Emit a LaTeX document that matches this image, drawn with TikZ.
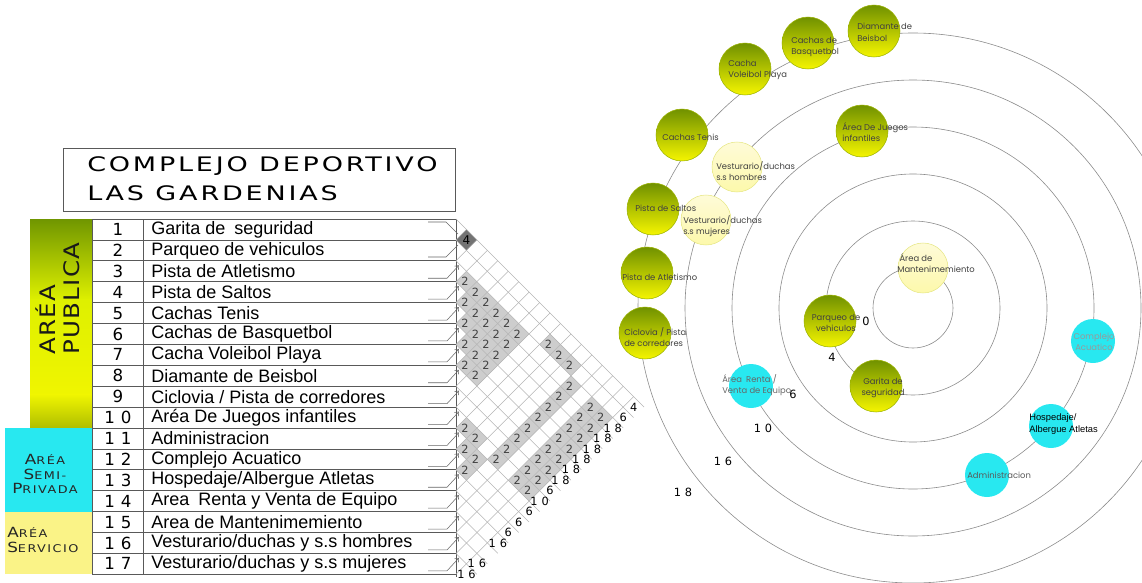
\documentclass[tikz,border=0pt]{standalone}
\usepackage{fontspec}
\setmainfont{Liberation Sans}
\newfontfamily\titlefont[FakeStretch=1.35, LetterSpace=14]{DejaVu Sans}
\newfontfamily\numfont[LetterSpace=35]{DejaVu Sans}
\newfontfamily\blockfont[FakeStretch=1.15, LetterSpace=6]{DejaVu Sans}
\newfontfamily\scfont[FakeStretch=1.2, LetterSpace=14]{DejaVu Sans}
\newfontfamily\bubfont{Poppins}
\usetikzlibrary{arrows.meta}
\definecolor{olivetop}{RGB}{112,150,0}
\definecolor{limemid}{RGB}{222,240,0}
\definecolor{yelbright}{RGB}{240,245,0}
\definecolor{olivebot}{RGB}{175,190,0}
\definecolor{semicyan}{RGB}{40,232,240}
\definecolor{servyel}{RGB}{250,243,135}
\definecolor{bubtop}{RGB}{112,145,0}
\definecolor{bubbot}{RGB}{245,245,0}
\definecolor{palebub}{RGB}{253,248,190}
\definecolor{cellgray}{RGB}{205,205,205}
\definecolor{gridgray}{RGB}{180,180,180}
\definecolor{ringgray}{RGB}{140,140,140}
\newcommand{\scword}[2]{{\fontsize{10.5}{10}\selectfont #1}{\fontsize{8}{10}\selectfont #2}}
\begin{document}
\begin{tikzpicture}[x=0.75pt, y=-0.75pt,
  tabline/.style={draw=black!65, line width=0.5pt},
  gridline/.style={draw=gridgray, line width=0.4pt},
  leader/.style={draw=black!60, line width=0.4pt},
  rowtext/.style={anchor=west, inner sep=0pt, font=\fontsize{13.5}{14}\selectfont},
  rownum/.style={inner sep=0pt, font=\numfont\fontsize{12.5}{13}\selectfont},
  cellnum/.style={inner sep=0pt, font=\numfont\fontsize{8.5}{8}\selectfont, text=black!75},
  sumnum/.style={inner sep=0pt, font=\numfont\fontsize{8.5}{8}\selectfont},
  ringnum/.style={inner sep=0pt, font=\numfont\fontsize{8.5}{8}\selectfont},
  greenbub/.style={circle, minimum size=39pt, inner sep=0pt, top color=bubtop, bottom color=bubbot, draw=bubtop!70!yellow, line width=0.4pt},
  palebubble/.style={circle, minimum size=37.5pt, inner sep=0pt, top color=palebub!60!white, bottom color=palebub!90!yellow, draw=palebub!70!olivebot, line width=0.4pt},
  cyanbub/.style={circle, minimum size=33pt, inner sep=0pt, fill=semicyan},
  bubtext/.style={inner sep=0pt, align=left, anchor=west, font=\bubfont\fontsize{6.3}{8.5}\selectfont, text=black!75},
  ring/.style={draw=ringgray, line width=0.45pt}]
\useasboundingbox (0,0) rectangle (1142,582);
\clip (0,0) rectangle (1142,582);

% title
\draw[tabline] (63,148) rectangle (455,211);
\node[anchor=west, inner sep=0pt, font=\titlefont\fontsize{15}{15}\selectfont] (title1) at (87,166) {COMPLEJO DEPORTIVO};
\node[anchor=west, inner sep=0pt, font=\titlefont\fontsize{15}{15}\selectfont] (title2) at (87,193) {LAS GARDENIAS};

% zone blocks
\shade[top color=olivetop, bottom color=limemid] (30,219) rectangle (92,300);
\shade[top color=limemid, bottom color=yelbright] (30,299.5) rectangle (92,395);
\shade[top color=yelbright, bottom color=olivebot] (30,394.5) rectangle (92,428);
\fill[semicyan] (5,428) rectangle (92,511.6);
\fill[servyel] (5,511.6) rectangle (92,574);
\node[rotate=90, anchor=west, inner sep=0pt, font=\blockfont\fontsize{16}{16}\selectfont, text=black!90] (area1) at (46,355) {ARÉA};
\node[rotate=90, anchor=west, inner sep=0pt, font=\blockfont\fontsize{16}{16}\selectfont, text=black!90] (publica) at (72,355) {PUBLICA};
\node[align=center, inner sep=0pt, font=\scfont, text=black!85] (semi) at (45,474) {\scword{A}{RÉA}\\[-1pt]\scword{S}{EMI-}\\[-1pt]\scword{P}{RIVADA}};
\node[align=left, anchor=west, inner sep=0pt, font=\scfont, text=black!85] (serv) at (7,540) {\scword{A}{RÉA}\\[-1pt]\scword{S}{ERVICIO}};

% table
\foreach \k in {0,...,17}
  \draw[tabline] (92,219+\k*20.9) -- (456,219+\k*20.9);
\draw[tabline] (92,219) -- (92,574);
\draw[tabline] (143,219) -- (143,574);
\draw[tabline] (456,219) -- (456,577);
\foreach \t [count=\r] in {Garita de\enspace seguridad, Parqueo de vehiculos, Pista de Atletismo,
    Pista de Saltos, Cachas Tenis, Cachas de Basquetbol, Cacha Voleibol Playa,
    Diamante de Beisbol, Ciclovia / Pista de corredores, Aréa De Juegos infantiles,
    Administracion, Complejo Acuatico, Hospedaje/Albergue Atletas,
    Area\enspace Renta y Venta de Equipo, Area de Mantenimemiento,
    Vesturario/duchas y s.s hombres, Vesturario/duchas y s.s mujeres}{
  \pgfmathsetmacro\yc{219+(\r-0.5)*20.9}
  \node[rownum] (n\r) at (118,\yc) {\r};
  \node[rowtext] (t\r) at (151,\yc) {\t};
}

% leaders
\draw[leader] (428,222) -- (446,222) -- (458,234);
\draw[leader] (428,257) -- (446,257) -- (458,245);
\foreach \r in {3,...,17}{
  \pgfmathsetmacro\yc{219+(\r-0.5)*20.9}
  \draw[leader, -{Straight Barb[length=2.5pt,width=4pt]}] (428,\yc+7) -- (447,\yc+7) -- (459,\yc-6);
}

% relation matrix
\def\Xm{456}
\def\Ym{219}
\def\hh{10.45}
\foreach \i/\j in {3/4,3/5,3/6,3/7,3/8,3/9,4/5,4/6,4/7,4/8,4/9,5/6,5/7,5/8,5/9,6/7,6/8,6/9,7/8,7/9,
    2/11,2/12,2/13,3/14,4/14,5/14,6/14,7/14,8/14,9/14,10/14,
    3/16,4/16,5/16,6/16,7/16,8/16,9/16,10/16,3/17,4/17,5/17,6/17,7/17,8/17,9/17,10/17,
    10/11,10/12,11/12,11/13,12/13}{
  \pgfmathsetmacro\cx{\Xm+(\j-\i)*\hh}
  \pgfmathsetmacro\cy{\Ym+(\i+\j-1)*\hh}
  \fill[cellgray] (\cx-\hh,\cy) -- (\cx,\cy-\hh) -- (\cx+\hh,\cy) -- (\cx,\cy+\hh) -- cycle;
  \node[cellnum] (c\i-\j) at (\cx-1.5,\cy) {2};
}
\fill[black!55] (\Xm,\Ym+2*\hh) -- (\Xm+\hh,\Ym+\hh) -- (\Xm+2*\hh,\Ym+2*\hh) -- (\Xm+\hh,\Ym+3*\hh) -- cycle;
\node[cellnum, text=black, font=\numfont\fontsize{9}{9}\selectfont] (c1-2) at (\Xm+\hh,\Ym+2*\hh) {4};
\foreach \k in {0,...,16}
  \draw[gridline] (\Xm,\Ym+\k*2*\hh) -- ++({(18-\k)*\hh},{(18-\k)*\hh});
\foreach \k in {1,...,17}
  \draw[gridline] (\Xm,\Ym+\k*2*\hh) -- ++({\k*\hh},{-\k*\hh});
\foreach \i/\v in {1/4,2/6,3/18,4/18,5/18,6/18,7/18,8/18,9/6,10/10,11/6,12/6,13/6,14/16,16/16,17/16}
  \node[sumnum] (s\i) at ({\Xm+(18-\i)*\hh},{\Ym+(\i+17)*\hh}) {\v};

% rings
\coordinate (ctr) at (913,308);
\foreach \rr in {40,87,134,181,228,275}
  \draw[ring] (ctr) circle[radius=\rr];
\node[ringnum] (r0) at (866,321) {0};
\node[ringnum] (r4) at (832,357) {4};
\node[ringnum] (r6) at (793,394) {6};
\node[ringnum] (r10) at (763,428) {10};
\node[ringnum] (r16) at (723,461) {16};
\node[ringnum] (r18) at (683,492) {18};

% bubbles
\node[greenbub] (beis) at (874,31) {};
\node[greenbub] (basq) at (808,43) {};
\node[greenbub] (vole) at (745,69) {};
\node[greenbub] (teni) at (682,135) {};
\node[greenbub] (salt) at (653,209) {};
\node[greenbub] (atle) at (647,273) {};
\node[greenbub] (cicl) at (645,333) {};
\node[greenbub] (jueg) at (862,131) {};
\node[greenbub] (parq) at (830,321) {};
\node[greenbub] (gari) at (876,386) {};
\node[palebubble] (mant) at (923,268) {};
\node[palebubble] (vhom) at (737,167) {};
\node[palebubble] (vmuj) at (706,220) {};
\node[cyanbub] (rent) at (751,386) {};
\node[cyanbub] (acua) at (1093,341) {};
\node[cyanbub] (hosp) at (1051,426) {};
\node[cyanbub] (admi) at (987,475) {};

% bubble texts
\node[bubtext] (beist) at (857,32.5) {Diamante de\\Beisbol};
\node[bubtext] (basqt) at (791,47) {Cachas de\\Basquetbol};
\node[bubtext] (volet) at (728,70) {Cacha\\Voleibol Playa};
\node[bubtext] (tenit) at (662,137) {Cachas Tenis};
\node[bubtext] (saltt) at (635,208) {Pista de Saltos};
\node[bubtext] (atlet) at (622,277) {Pista de Atletismo};
\node[bubtext] (ciclt) at (624,337) {Ciclovia / Pista\\de corredores};
\node[bubtext] (juegt) at (842,132) {Área De Juegos\\infantiles};
\node[bubtext] (vhomt) at (716,171) {Vesturario/duchas\\s.s hombres};
\node[bubtext] (vmujt) at (683,226) {Vesturario/duchas\\s.s mujeres};
\node[bubtext] (mantt) at (897,263) {\ Área de\\Mantenimemiento};
\node[bubtext, align=center, anchor=center] (parqt) at (836,323) {Parqueo de\\vehiculos};
\node[bubtext, align=center, anchor=center] (garit) at (883,388) {Garita de\\seguridad};
\node[bubtext, text=black!60] (rentt) at (722,385) {Área\enspace Renta /\\Venta de Equipo};
\node[bubtext, align=center, anchor=center, text=black!40] (acuat) at (1094,342) {Complejo\\Acuatico};
\node[inner sep=0pt, align=left, anchor=west, font=\fontsize{7}{9}\selectfont] (hospt) at (1029,424) {Hospedaje/\\Albergue Atletas};
\node[bubtext, text=black!65] (admit) at (967,475) {Administracion};
\end{tikzpicture}
\end{document}
